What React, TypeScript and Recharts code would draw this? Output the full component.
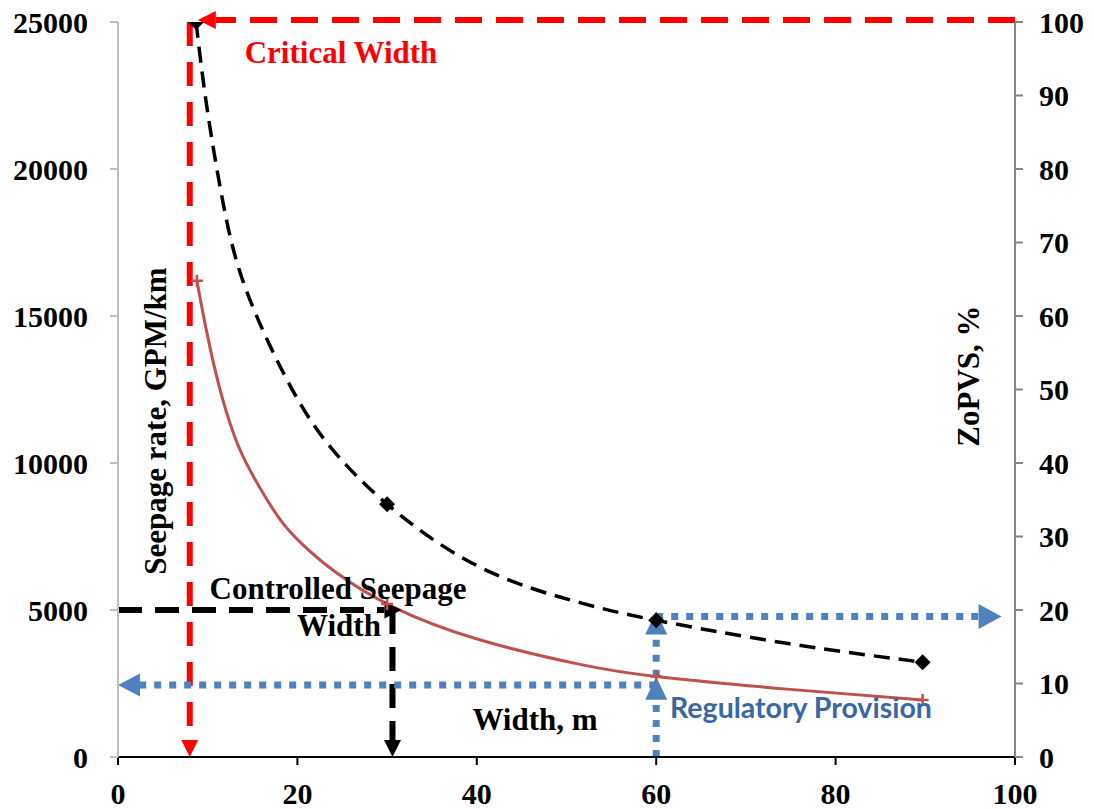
import { ComposedChart, Line, ReferenceLine, XAxis, YAxis } from "recharts";

// seepage rate curve (left axis, GPM/km)
const seepageWidths = [8.8, 9.7, 11.2, 13.0, 14.9, 17.9, 20.5, 24.2, 30.7, 40.4, 51.5, 60, 74.9, 89.7];
const seepageRates = [16200, 14750, 12700, 10900, 9650, 8150, 7250, 6300, 5100, 3980, 3150, 2740, 2300, 1940];
const seepageMarkWidths = [8.8, 30, 60, 89.7];
const seepageMarkRates = [16200, 5200, 2740, 1940];

// ZoPVS curve (right axis, %)
const zopvsWidths = [8.7, 9.9, 11.7, 14.3, 19.2, 23.6, 30, 40.4, 51.5, 60, 74.9, 89.7];
const zopvsValues = [100, 88.5, 75.5, 63.5, 50.5, 42.3, 34.4, 25.8, 21.0, 18.6, 15.4, 12.9];
const zopvsMarkWidths = [8.7, 30, 60, 89.7];
const zopvsMarkValues = [100, 34.4, 18.6, 12.9];

const xTicks = [0, 20, 40, 60, 80, 100];
const leftTicks = [0, 5000, 10000, 15000, 20000, 25000];
const rightTicks = [0, 10, 20, 30, 40, 50, 60, 70, 80, 90, 100];

// annotation values
const criticalWidth = 8;
const criticalTip = 8.9;
const controlledWidth = 30.6;
const controlledTip = 31.6;
const controlledRate = 5000;
const regulatoryWidth = 60;
const regulatoryRate = 2450;
const regulatoryCurveRate = 2730;
const regulatoryZopvs = 19.1;
const regulatoryTopTip = 19.8;
const regulatoryRightTip = 98.5;

const toRows = (xs: number[], ys: number[]) => xs.map((x, i) => ({ x, v: ys[i] }));

const seepageRows = toRows(seepageWidths, seepageRates);
const seepageMarks = toRows(seepageMarkWidths, seepageMarkRates);
const zopvsRows = toRows(zopvsWidths, zopvsValues);
const zopvsMarks = toRows(zopvsMarkWidths, zopvsMarkValues);

const serif = "'Liberation Serif', 'Times New Roman', serif";
const tickStyle = { fill: "#000", fontSize: 30, fontWeight: "bold", fontFamily: serif };

const RED = "#FF0000";
const BLUE = "#4F81BD";

// line with an arrow head at the (x2, y2) end
const arrow =
  (color: string, width: number, dash: string, headLen: number, headW: number, dy = 0) =>
  (p: any) => {
    const { x1, x2 } = p;
    const y1 = p.y1 + dy;
    const y2 = p.y2 + dy;
    const len = Math.hypot(x2 - x1, y2 - y1) || 1;
    const ux = (x2 - x1) / len;
    const uy = (y2 - y1) / len;
    const bx = x2 - ux * headLen;
    const by = y2 - uy * headLen;
    const px = -uy * (headW / 2);
    const py = ux * (headW / 2);
    return (
      <g>
        <line x1={x1} y1={y1} x2={bx} y2={by} stroke={color} strokeWidth={width} strokeDasharray={dash} />
        <polygon points={`${x2},${y2} ${bx + px},${by + py} ${bx - px},${by - py}`} fill={color} />
      </g>
    );
  };

const plusDot = (p: any) => {
  const { cx, cy, index } = p;
  if (cx == null || cy == null) return <g key={index} />;
  return (
    <path
      key={index}
      d={`M${cx - 6},${cy} H${cx + 6} M${cx},${cy - 6} V${cy + 6}`}
      stroke="#C0504D"
      strokeWidth={2.5}
    />
  );
};

const diamondDot = (p: any) => {
  const { cx, cy, index } = p;
  if (cx == null || cy == null) return <g key={index} />;
  return (
    <polygon
      key={index}
      points={`${cx},${cy - 8} ${cx + 8},${cy} ${cx},${cy + 8} ${cx - 8},${cy}`}
      fill="#000"
    />
  );
};

export default function App() {
  return (
    <div style={{ position: "absolute", left: 0, top: 0, width: 1094, height: 809, background: "#fff" }}>
      <ComposedChart width={1094} height={809} margin={{ top: 22, right: 9, left: 18, bottom: 12 }}>
        <XAxis
          type="number"
          dataKey="x"
          domain={[0, 100]}
          ticks={xTicks}
          height={40}
          tickSize={8}
          tickMargin={18}
          axisLine={{ stroke: "#000", strokeWidth: 2 }}
          tickLine={{ stroke: "#000", strokeWidth: 2 }}
          tick={tickStyle}
          allowDataOverflow
        />
        <YAxis
          yAxisId="L"
          domain={[0, 25000]}
          ticks={leftTicks}
          width={100}
          tickSize={8}
          tickMargin={22}
          axisLine={{ stroke: "#BFBFBF", strokeWidth: 2 }}
          tickLine={{ stroke: "#BFBFBF", strokeWidth: 2 }}
          tick={tickStyle}
          allowDataOverflow
        />
        <YAxis
          yAxisId="R"
          orientation="right"
          domain={[0, 100]}
          ticks={rightTicks}
          width={70}
          tickSize={8}
          tickMargin={16}
          axisLine={{ stroke: "#868686", strokeWidth: 2 }}
          tickLine={{ stroke: "#868686", strokeWidth: 2 }}
          tick={{ ...tickStyle, textAnchor: "start" }}
          allowDataOverflow
        />

        <Line
          data={seepageRows}
          yAxisId="L"
          dataKey="v"
          type="natural"
          stroke="#C0504D"
          strokeWidth={3}
          dot={false}
          isAnimationActive={false}
        />
        <Line
          data={seepageMarks}
          yAxisId="L"
          dataKey="v"
          stroke="none"
          dot={plusDot}
          isAnimationActive={false}
        />
        <Line
          data={zopvsRows}
          yAxisId="R"
          dataKey="v"
          type="natural"
          stroke="#000"
          strokeWidth={3.5}
          strokeDasharray="16 9"
          dot={false}
          isAnimationActive={false}
        />
        <Line
          data={zopvsMarks}
          yAxisId="R"
          dataKey="v"
          stroke="none"
          dot={diamondDot}
          isAnimationActive={false}
        />

        {/* critical width */}
        <ReferenceLine
          yAxisId="L"
          segment={[{ x: criticalWidth, y: 25000 }, { x: criticalWidth, y: 0 }]}
          shape={arrow(RED, 6, "24 16", 17, 17)}
        />
        <ReferenceLine
          yAxisId="R"
          segment={[{ x: 100, y: 100 }, { x: criticalTip, y: 100 }]}
          shape={arrow(RED, 6, "27 14", 18, 18, -2)}
        />

        {/* controlled seepage width */}
        <ReferenceLine
          yAxisId="L"
          segment={[{ x: 0, y: controlledRate }, { x: controlledTip, y: controlledRate }]}
          shape={arrow("#000", 6, "24 13", 17, 17)}
        />
        <ReferenceLine
          yAxisId="L"
          segment={[{ x: controlledWidth, y: controlledRate }, { x: controlledWidth, y: 0 }]}
          shape={arrow("#000", 6, "24 13", 17, 17)}
        />

        {/* regulatory provision */}
        <ReferenceLine
          yAxisId="L"
          segment={[{ x: regulatoryWidth, y: regulatoryRate }, { x: 0, y: regulatoryRate }]}
          shape={arrow(BLUE, 7, "7 8", 22, 23)}
        />
        <ReferenceLine
          yAxisId="L"
          segment={[{ x: regulatoryWidth, y: 0 }, { x: regulatoryWidth, y: regulatoryCurveRate }]}
          shape={arrow(BLUE, 7, "7 8", 23, 22)}
        />
        <ReferenceLine
          yAxisId="R"
          segment={[{ x: regulatoryWidth, y: regulatoryCurveRate / 250 }, { x: regulatoryWidth, y: regulatoryTopTip }]}
          shape={arrow(BLUE, 7, "7 8", 23, 22)}
        />
        <ReferenceLine
          yAxisId="R"
          segment={[{ x: regulatoryWidth, y: regulatoryZopvs }, { x: regulatoryRightTip, y: regulatoryZopvs }]}
          shape={arrow(BLUE, 7, "7 8", 23, 25)}
        />
      </ComposedChart>

      <svg
        width={1094}
        height={809}
        style={{ position: "absolute", left: 0, top: 0, pointerEvents: "none" }}
      >
        <g fontFamily={serif} fontWeight="bold" fontSize={31}>
          <text x={341} y={63} textAnchor="middle" fill={RED}>
            Critical Width
          </text>
          <text x={338} y={599} textAnchor="middle" fill="#000">
            Controlled Seepage
          </text>
          <text x={339} y={636} textAnchor="middle" fill="#000">
            Width
          </text>
          <text x={535} y={730} textAnchor="middle" fill="#000">
            Width, m
          </text>
          <text
            transform="translate(155 421) rotate(-90)"
            textAnchor="middle"
            dominantBaseline="central"
            fill="#000"
          >
            Seepage rate, GPM/km
          </text>
          <text
            transform="translate(968 376) rotate(-90)"
            textAnchor="middle"
            dominantBaseline="central"
            fill="#000"
          >
            ZoPVS, %
          </text>
        </g>
        <text x={670} y={718} fontFamily="Lato, 'Open Sans', sans-serif" fontWeight="bold" fontSize={28.5} fill="#3A67A3">
          Regulatory Provision
        </text>
      </svg>
    </div>
  );
}
